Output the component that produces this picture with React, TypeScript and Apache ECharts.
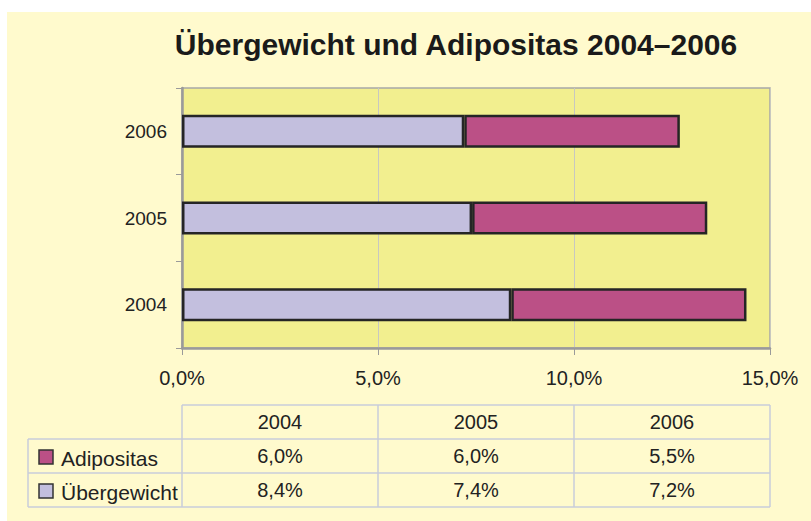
import React, { useEffect, useRef } from "react";
import * as echarts from "echarts";

const categories = ["2004", "2005", "2006"];
const uebergewicht = [8.4, 7.4, 7.2];
const adipositas = [6.0, 6.0, 5.5];
const xTicks = [0, 5, 10, 15];
const seriesNames = ["Adipositas", "Übergewicht"];

const fmt = (v: number) => v.toFixed(1).replace(".", ",") + "%";

const COL_ADI = "#BB5086";
const COL_UEB = "#C3BFDE";
const TABLE_LINE = "#C9CDDA";
const TXT = "#222222";
const FONT = "'Liberation Sans', Arial, Helvetica, sans-serif";

export default function App() {
  const ref = useRef<HTMLDivElement>(null);
  useEffect(() => {
    document.body.style.margin = "0";
    const chart = echarts.init(ref.current!, null, { renderer: "svg" });

    const colX = [182, 378, 574, 770];
    const rowY = [405, 439, 473, 507];
    const g: any[] = [];
    g.push({
      type: "rect",
      z: -10,
      shape: { x: 7, y: 12, width: 804, height: 509 },
      style: { fill: "#FFFACD" },
    });
    g.push({ type: "line", shape: { x1: colX[0], y1: rowY[0], x2: colX[3], y2: rowY[0] }, style: { stroke: TABLE_LINE, lineWidth: 1.5 } });
    for (let r = 1; r < rowY.length; r++) {
      g.push({ type: "line", shape: { x1: 28, y1: rowY[r], x2: colX[3], y2: rowY[r] }, style: { stroke: TABLE_LINE, lineWidth: 1.5 } });
    }
    for (let c = 0; c < colX.length; c++) {
      g.push({ type: "line", shape: { x1: colX[c], y1: rowY[0], x2: colX[c], y2: rowY[3] }, style: { stroke: TABLE_LINE, lineWidth: 1.5 } });
    }
    g.push({ type: "line", shape: { x1: 28, y1: rowY[1], x2: 28, y2: rowY[3] }, style: { stroke: TABLE_LINE, lineWidth: 1.5 } });
    categories.forEach((cat, i) => {
      g.push({
        type: "text",
        x: (colX[i] + colX[i + 1]) / 2,
        y: (rowY[0] + rowY[1]) / 2,
        style: { text: cat, fill: TXT, font: "20px " + FONT, align: "center", verticalAlign: "middle" },
      });
    });
    const rows = [
      { name: seriesNames[0], color: COL_ADI, vals: adipositas },
      { name: seriesNames[1], color: COL_UEB, vals: uebergewicht },
    ];
    rows.forEach((row, r) => {
      const cy = (rowY[r + 1] + rowY[r + 2]) / 2;
      g.push({ type: "rect", shape: { x: 39, y: cy - 6, width: 14, height: 14 }, style: { fill: row.color, stroke: "#333", lineWidth: 1.5 } });
      g.push({
        type: "text",
        x: 61,
        y: cy + 2,
        style: { text: row.name, fill: TXT, font: "21px " + FONT, align: "left", verticalAlign: "middle" },
      });
      row.vals.forEach((v, i) => {
        g.push({
          type: "text",
          x: (colX[i] + colX[i + 1]) / 2,
          y: cy,
          style: { text: fmt(v), fill: TXT, font: "20px " + FONT, align: "center", verticalAlign: "middle" },
        });
      });
    });

    chart.setOption({
      animation: false,
      backgroundColor: "#FFFFFF",
      title: {
        text: "Übergewicht und Adipositas 2004–2006",
        left: 451,
        textAlign: "center",
        top: 24,
        textStyle: { fontFamily: FONT, fontSize: 30, fontWeight: "bold", color: "#1a1a1a" },
      },
      grid: {
        left: 182,
        right: 41,
        top: 88,
        bottom: 173,
        show: true,
        backgroundColor: "#F2EF8F",
        borderColor: "#A8A8A8",
        borderWidth: 1.5,
      },
      xAxis: {
        type: "value",
        min: 0,
        max: 15,
        interval: 5,
        axisLine: { show: true, onZero: false, lineStyle: { color: "#9A9A9A", width: 2.5 } },
        axisTick: { show: true, length: 7, lineStyle: { color: "#9A9A9A", width: 1 } },
        splitLine: { show: true, lineStyle: { color: "#C8C8C0", width: 1 } },
        axisLabel: {
          formatter: (v: number) => (xTicks.includes(v) ? fmt(v) : ""),
          color: TXT,
          fontSize: 20,
          fontFamily: FONT,
          margin: 20,
        },
      },
      yAxis: {
        type: "category",
        data: categories,
        axisLine: { show: true, lineStyle: { color: "#9A9A9A", width: 2.5 } },
        axisTick: { show: true, length: 6, alignWithLabel: false, lineStyle: { color: "#9A9A9A", width: 1 } },
        axisLabel: { color: TXT, fontSize: 19, fontFamily: FONT, margin: 15 },
        splitLine: { show: false },
      },
      series: [
        {
          name: seriesNames[1],
          type: "bar",
          stack: "total",
          data: uebergewicht,
          barWidth: "38%",
          itemStyle: { color: COL_UEB, borderColor: "#252525", borderWidth: 2.5 },
        },
        {
          name: seriesNames[0],
          type: "bar",
          stack: "total",
          data: adipositas,
          barWidth: "38%",
          itemStyle: { color: COL_ADI, borderColor: "#252525", borderWidth: 2.5 },
        },
      ],
      graphic: g,
    });
    return () => chart.dispose();
  }, []);
  return <div ref={ref} style={{ width: 811, height: 521 }} />;
}
